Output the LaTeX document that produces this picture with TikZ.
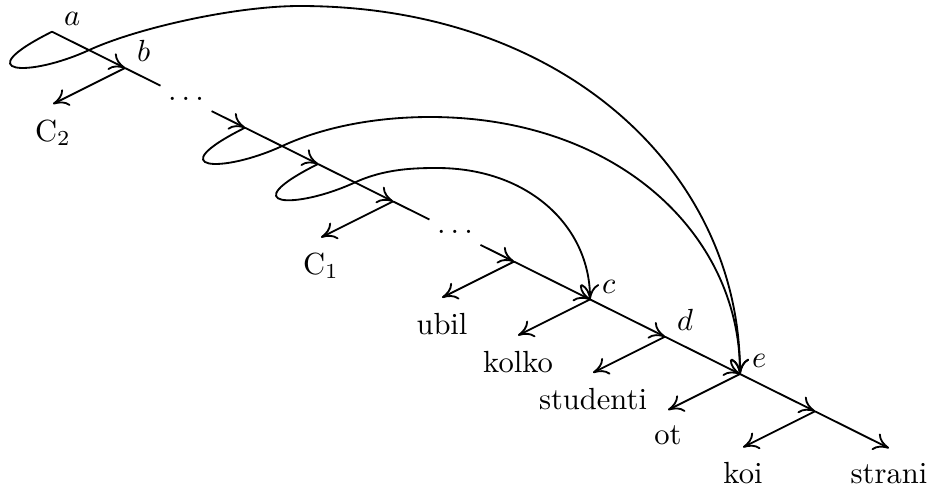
\documentclass[tikz,border=0pt]{standalone}
\usepackage{tikz}
\usetikzlibrary{arrows.meta}

\begin{document}
\begin{tikzpicture}[x=1.15mm, y=-1.15mm, semithick, >={To[length=5pt,width=6pt]},
  word/.style={anchor=north, yshift=-0.5mm},
  tag/.style={anchor=south west, inner sep=0pt, xshift=1.3mm, yshift=0.6mm}]

\useasboundingbox (0,0) rectangle (93.9,49.3);

% Albero con archi e cicli
\coordinate (a)  at (5.2,3.17);
\coordinate (b)  at (12.5,6.8);
\coordinate (p1) at (24.5,12.77);
\coordinate (p2) at (31.8,16.40);
\coordinate (p3) at (39.3,20.14);
\coordinate (j)  at (51.4,26.16);
\coordinate (c)  at (59.0,29.94);
\coordinate (d)  at (66.5,33.67);
\coordinate (e)  at (74.0,37.40);
\coordinate (k)  at (81.5,41.13);
\coordinate (tstrani) at (88.9,44.82);

\node (dots1) at (18.6,9.84)  {$\dots$};
\node (dots2) at (45.5,23.22) {$\dots$};

\node[tag] (la) at (a) {$a$};
\node[tag] (lb) at (b) {$b$};
\node[tag] (lc) at (c) {$c$};
\node[tag] (ld) at (d) {$d$};
\node[tag] (le) at (e) {$e$};

\draw[->] (a) -- (b);
\draw (b) -- (dots1);
\draw[->] (dots1) -- (p1);
\draw[->] (p1) -- (p2);
\draw[->] (p2) -- (p3);
\draw (p3) -- (dots2);
\draw[->] (dots2) -- (j);
\draw[->] (j) -- (c);
\draw[->] (c) -- (d);
\draw[->] (d) -- (e);
\draw[->] (e) -- (k);
\draw[->] (k) -- (tstrani);

\draw[->] (b)  -- ++(-7.2,3.6) coordinate (tC2);
\draw[->] (p3) -- ++(-7.2,3.6) coordinate (tC1);
\draw[->] (j)  -- ++(-7.2,3.6) coordinate (tubil);
\draw[->] (c)  -- ++(-7.2,3.6) coordinate (tkolko);
\draw[->] (d)  -- ++(-7.2,3.6) coordinate (tstudenti);
\draw[->] (e)  -- ++(-7.2,3.6) coordinate (tot);
\draw[->] (k)  -- ++(-7.2,3.6) coordinate (tkoi);

\node[word] (C2)       at (tC2)       {C$_2$};
\node[word] (C1)       at (tC1)       {C$_1$};
\node[word] (ubil)     at (tubil)     {ubil};
\node[word] (kolko)    at (tkolko)    {kolko};
\node[word] (studenti) at (tstudenti) {studenti};
\node[word] (ot)       at (tot)       {ot};
\node[word] (koi)      at (tkoi)      {koi};
\node[word] (strani)   at (tstrani)   {strani};

\draw[->] (a) .. controls (-3.4,7.47) and (2.9,7.77) .. (8.9,5.01)
  .. controls (13.7,2.81) and (23.5,0.6) .. (30,0.6)
  .. controls (56.4,0.6) and (74,17.2) .. (e);
\draw[->] (p1) .. controls (15.9,17.07) and (22.2,17.37) .. (28.2,14.61)
  .. controls (33.0,12.4) and (38.5,11.7) .. (43,11.7)
  .. controls (61.6,11.7) and (74,23.3) .. (e);
\draw[->] (p2) .. controls (23.2,20.7) and (29.5,21.0) .. (35.5,18.24)
  .. controls (38.5,16.86) and (41.5,16.8) .. (43.7,16.8)
  .. controls (52.9,16.8) and (59,22.7) .. (c);

\end{tikzpicture}
\end{document}
